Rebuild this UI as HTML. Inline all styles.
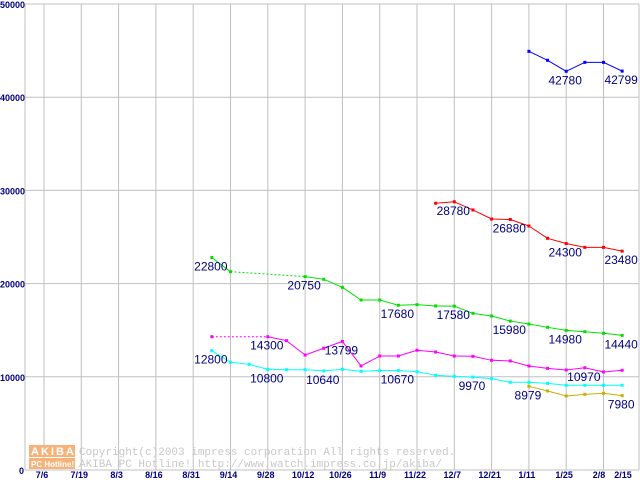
<!DOCTYPE html>
<html><head><meta charset="utf-8"><style>
body{margin:0;background:#fff;width:640px;height:480px;overflow:hidden}
svg{display:block;font-family:"Liberation Sans",sans-serif}
</style></head><body>
<svg id="chart" width="640" height="480" viewBox="0 0 640 480" xmlns="http://www.w3.org/2000/svg">
<g id="grid"></g>
<g id="watermark">
<rect x="29" y="445" width="46" height="12" fill="#f7b27a"/>
<rect x="29" y="458" width="46" height="11" fill="#f7b27a"/>
<text x="31" y="455" font-size="11" fill="#fff" font-weight="bold" letter-spacing="2">AKIBA</text>
<text x="31" y="467" font-size="8" fill="#fff" font-weight="bold">PC Hotline!</text>
<text x="79" y="455" font-size="11" fill="#c8c8c8" font-family="Liberation Mono,monospace">Copyright(c)2003 impress corporation All rights reserved.</text>
<text x="79" y="467" font-size="11" fill="#c8c8c8" font-family="Liberation Mono,monospace">AKIBA PC Hotline!  http://www.watch.impress.co.jp/akiba/</text>
</g>
<g id="axes"></g>
<g id="series"></g>
<g id="labels"></g>
</svg>
<script>
const dates = ["7/6","7/19","8/3","8/16","8/31","9/14","9/28","10/12","10/26","11/9","11/22","12/7","12/21","1/11","1/25","2/8","2/15"];
const yTicks = [0,10000,20000,30000,40000,50000];
const greenVals = [[9,22800],[10,21280],[14,20750],[15,20460],[16,19600],[17,18240],[18,18240],[19,17680],[20,17740],[21,17600],[22,17580],[23,16810],[24,16520],[25,15980],[26,15660],[27,15310],[28,14980],[29,14840],[30,14670],[31,14440]];
const magentaVals = [[9,14300],[12,14300],[13,13880],[14,12340],[15,13060],[16,13799],[17,11160],[18,12230],[19,12230],[20,12850],[21,12660],[22,12230],[23,12200],[24,11770],[25,11700],[26,11160],[27,10910],[28,10730],[29,10970],[30,10520],[31,10700]];
const cyanVals = [[9,12800],[10,11560],[11,11340],[12,10800],[13,10760],[14,10760],[15,10640],[16,10800],[17,10590],[18,10670],[19,10670],[20,10550],[21,10160],[22,10050],[23,9970],[24,9800],[25,9410],[26,9410],[27,9300],[28,9090],[29,9090],[30,9090],[31,9090]];
const oliveVals = [[26,8979],[27,8480],[28,7940],[29,8120],[30,8230],[31,7980]];
const redVals = [[21,28620],[22,28780],[23,27900],[24,26930],[25,26880],[26,26180],[27,24860],[28,24300],[29,23890],[30,23890],[31,23480]];
const blueVals = [[26,44920],[27,43960],[28,42780],[29,43740],[30,43740],[31,42799]];
const greenLabels=[9,14,19,22,25,28,31], magentaLabels=[12,16,29], cyanLabels=[9,12,15,19,23], oliveLabels=[26,31], redLabels=[22,25,28,31], blueLabels=[28,31];

const NS="http://www.w3.org/2000/svg";
const X0=25,X1=639,YB=470,YT=4;
function xs(week){return 44+week*18.65;}
function ys(v){return YB-v/50000*(YB-YT);}
function mk(tag,attrs,parent){const e=document.createElementNS(NS,tag);for(const k in attrs)e.setAttribute(k,attrs[k]);document.getElementById(parent).appendChild(e);return e;}

yTicks.forEach(function(t){
  const l=mk("line",{x1:X0,x2:X1,y1:ys(t),y2:ys(t),stroke:"#c0c0c0","stroke-width":1},"grid");
  
  
  const tx=mk("text",{x:t===0?19:0,y:ys(t)+4,"text-anchor":"start","font-size":9,"font-weight":"bold",fill:"#000080"},"axes");
  tx.textContent=t;
  
  
});
dates.forEach(function(d,i){
  const x=44+i*37.3;
  const l=mk("line",{x1:x,x2:x,y1:YT,y2:YB,stroke:"#c0c0c0","stroke-width":1},"grid");
  
  
  const tx=mk("text",{x:i==16?623:(i==15?599:x-2),y:478,"text-anchor":"middle","font-size":9,"font-weight":"bold",fill:"#000080"},"axes");
  tx.textContent=d;
  
  
});
const r=mk("line",{x1:639,x2:639,y1:YT,y2:YB,stroke:"#c0c0c0"},"grid");


const ax=mk("line",{x1:X0,x2:X0,y1:YT,y2:YB,stroke:"#c0c0c0"},"axes");



function drawSeries(vals,color,labels,name){
  for(let i=1;i<vals.length;i++){
    const a=vals[i-1],b=vals[i];
    const attrs={x1:xs(a[0]),y1:ys(a[1]),x2:xs(b[0]),y2:ys(b[1]),stroke:color,"stroke-width":1};
    if(b[0]-a[0]>1)attrs["stroke-dasharray"]="2,2";
    const l=mk("line",attrs,"series");
    
    
  }
  vals.forEach(function(p){
    const m=mk("rect",{x:xs(p[0])-1.5,y:ys(p[1])-1.5,width:3,height:3,fill:color},"series");
    
    
    if(labels.indexOf(p[0])>=0){
      const t=mk("text",{x:xs(p[0])-1,y:ys(p[1])+13,"text-anchor":"middle","font-size":12,fill:"#000080"},"labels");
      t.textContent=p[1];
      
      
    }
  });
}
drawSeries(greenVals,"#00e000",greenLabels,"green-series");
drawSeries(magentaVals,"#ff00ff",magentaLabels,"magenta-series");
drawSeries(cyanVals,"#00ffff",cyanLabels,"cyan-series");
drawSeries(oliveVals,"#c8b000",oliveLabels,"olive-series");
drawSeries(redVals,"#ff0000",redLabels,"red-series");
drawSeries(blueVals,"#0000ff",blueLabels,"blue-series");
</script>
</body></html>
